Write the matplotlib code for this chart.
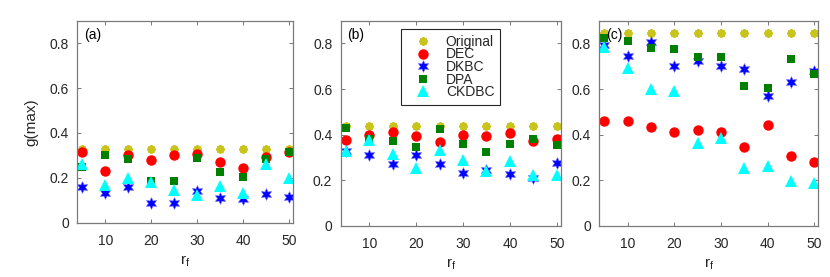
import matplotlib
matplotlib.use("Agg")
import matplotlib.pyplot as plt
import numpy as np

plt.rcParams['font.family'] = ['Liberation Sans', 'DejaVu Sans']

rf = [5, 10, 15, 20, 25, 30, 35, 40, 45, 50]
series_names = ["Original", "DEC", "DKBC", "DPA", "CKDBC"]

# Panel (a)
a_original = [0.33, 0.33, 0.33, 0.33, 0.33, 0.33, 0.33, 0.33, 0.33, 0.33]
a_dec      = [0.314, 0.230, 0.300, 0.278, 0.300, 0.306, 0.271, 0.245, 0.291, 0.316]
a_dkbc     = [0.161, 0.131, 0.161, 0.089, 0.089, 0.141, 0.112, 0.104, 0.128, 0.113]
a_dpa      = [0.247, 0.302, 0.284, 0.186, 0.187, 0.290, 0.224, 0.202, 0.282, 0.317]
a_ckdbc    = [0.262, 0.168, 0.198, 0.183, 0.146, 0.123, 0.165, 0.131, 0.262, 0.198]

# Panel (b)
b_original = [0.438, 0.438, 0.438, 0.438, 0.438, 0.438, 0.438, 0.438, 0.438, 0.438]
b_dec      = [0.377, 0.397, 0.410, 0.394, 0.368, 0.400, 0.394, 0.409, 0.372, 0.382]
b_dkbc     = [0.328, 0.312, 0.273, 0.310, 0.273, 0.232, 0.245, 0.225, 0.209, 0.277]
b_dpa      = [0.431, 0.380, 0.372, 0.346, 0.423, 0.360, 0.324, 0.360, 0.380, 0.356]
b_ckdbc    = [0.328, 0.375, 0.314, 0.255, 0.331, 0.288, 0.241, 0.282, 0.223, 0.223]

# Panel (c)
c_original = [0.847, 0.847, 0.847, 0.847, 0.847, 0.847, 0.847, 0.847, 0.847, 0.847]
c_dec      = [0.460, 0.461, 0.434, 0.413, 0.420, 0.410, 0.346, 0.442, 0.308, 0.279]
c_dkbc     = [0.793, 0.746, 0.807, 0.699, 0.723, 0.699, 0.686, 0.571, 0.631, 0.680]
c_dpa      = [0.826, 0.813, 0.778, 0.777, 0.742, 0.740, 0.615, 0.603, 0.731, 0.666]
c_ckdbc    = [0.785, 0.693, 0.601, 0.591, 0.365, 0.384, 0.253, 0.260, 0.197, 0.187]

panel_labels = ["(a)", "(b)", "(c)"]
panels = [
    [a_original, a_dec, a_dkbc, a_dpa, a_ckdbc],
    [b_original, b_dec, b_dkbc, b_dpa, b_ckdbc],
    [c_original, c_dec, c_dkbc, c_dpa, c_ckdbc],
]

styles = [
    dict(marker=(8, 2, 0), color='#c8c41c', markersize=6, mew=1.5),
    dict(marker='o', color='#ff0000', markersize=7.5, mew=0),
    dict(marker=(6, 1, 0), color='#0000ff', markersize=8.5, mew=0.4, mec='#6060ff'),
    dict(marker='s', color='#007f00', markersize=6, mew=0),
    dict(marker='^', color='#00ffff', markersize=8.5, mew=0),
]

W, H = 830, 277
fig = plt.figure(figsize=(W / 100, H / 100), dpi=100)

# axes rectangles in pixels: left, top, right, bottom
rects = [(77.3, 20.7, 293.3, 222.7), (340.7, 20.7, 561.0, 225.7), (599.3, 20.7, 818.3, 225.7)]

text_col = '#262626'
spine_col = '#7a7a7a'

for i, (l, t, r, b) in enumerate(rects):
    ax = fig.add_axes([l / W, 1 - b / H, (r - l) / W, (b - t) / H])
    for name, ys, st in zip(series_names, panels[i], styles):
        ax.plot(rf, ys, linestyle='none', label=name, **st)
    ax.set_xlim(3.9, 50.9)
    ax.set_ylim(0, 0.9)
    ax.set_xticks([10, 20, 30, 40, 50])
    ax.set_yticks([0, 0.2, 0.4, 0.6, 0.8])
    ax.set_yticklabels(['0', '0.2', '0.4', '0.6', '0.8'])
    ax.tick_params(direction='in', top=True, right=True, length=3, width=0.7,
                   color=spine_col, labelsize=10, labelcolor=text_col)
    ax.tick_params(axis='y', pad=6)
    ax.tick_params(axis='x', pad=8)
    for s in ax.spines.values():
        s.set_color(spine_col)
        s.set_linewidth(0.9)
    ax.set_xlabel(r'r$_\mathregular{f}$', fontsize=11, color=text_col, labelpad=4)
    ax.text(0.03, 0.965, panel_labels[i], transform=ax.transAxes, ha='left', va='top',
            fontsize=10, color='black')
    if i == 0:
        ax.set_ylabel('g(max)', fontsize=11, color=text_col)
        ax.yaxis.set_label_coords(-0.18, 0.5)
    if i == 1:
        leg = ax.legend(loc='upper left', bbox_to_anchor=(0.272, 0.958), borderaxespad=0,
                        fontsize=10, frameon=True, fancybox=False, framealpha=1,
                        edgecolor='#262626', handlelength=2.4, handletextpad=0.45,
                        labelspacing=-0.1, borderpad=0.4, numpoints=1)
        leg.get_frame().set_linewidth(0.8)
        for txt in leg.get_texts():
            txt.set_color(text_col)

fig.savefig('out.png', dpi=100)
